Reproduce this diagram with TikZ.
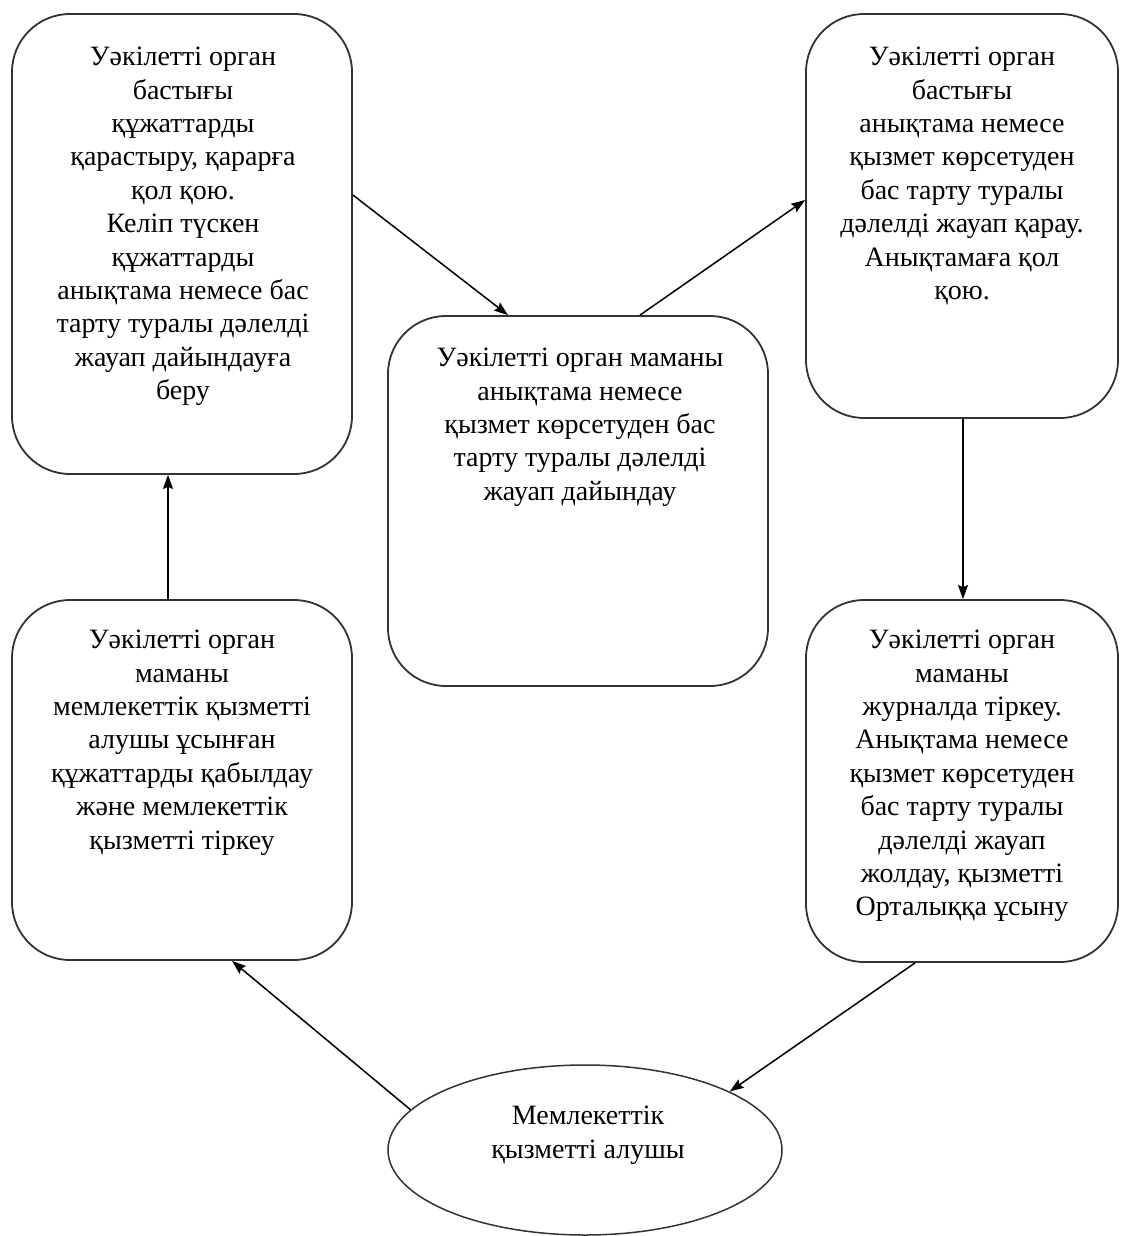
\documentclass[tikz,border=0pt]{standalone}
\usepackage{fontspec}
\setmainfont{Liberation Serif}
\usetikzlibrary{arrows.meta,shapes.geometric}
\begin{document}
\begin{tikzpicture}[x=1pt,y=-1pt,
  box/.style={draw=black!80,line width=1.8pt,rounded corners=58pt,fill=none,inner sep=0pt},
  oval/.style={draw=black!80,line width=1.5pt,ellipse,inner sep=0pt},
  txt/.style={align=center,inner sep=0pt,anchor=north,font=\fontsize{28}{33.4}\selectfont},
  arr/.style={draw=black,line width=1.5pt,-{Stealth[length=14pt,width=10pt,inset=2pt]}}]
\useasboundingbox (0,0) rectangle (1120,1236);
% boxes
\node[box,minimum width=340pt,minimum height=460pt] (b1) at (182,244) {};
\node[box,minimum width=380pt,minimum height=370pt] (b2) at (578,501) {};
\node[box,minimum width=312pt,minimum height=404pt] (b3) at (962,216) {};
\node[box,minimum width=340pt,minimum height=360pt] (b4) at (182,780) {};
\node[box,minimum width=312pt,minimum height=362pt] (b5) at (962,781) {};
\node[oval,minimum width=394pt,minimum height=170pt] (e) at (585,1150) {};
% texts
\node[txt] (t1) at (183,47) {Уәкілетті орган\\бастығы\\құжаттарды\\қарастыру, қарарға\\қол қою.\\Келіп түскен\\құжаттарды\\анықтама немесе бас\\тарту туралы дәлелді\\жауап дайындауға\\беру};
\node[txt] (t2) at (580,348) {Уәкілетті орган маманы\\анықтама немесе\\қызмет көрсетуден бас\\тарту туралы дәлелді\\жауап дайындау};
\node[txt] (t3) at (962,47) {Уәкілетті орган\\бастығы\\анықтама немесе\\қызмет көрсетуден\\бас тарту туралы\\дәлелді жауап қарау.\\Анықтамаға қол\\қою.};
\node[txt] (t4) at (182,630) {Уәкілетті орган\\маманы\\мемлекеттік қызметті\\алушы ұсынған\\құжаттарды қабылдау\\және мемлекеттік\\қызметті тіркеу};
\node[txt] (t5) at (962,630) {Уәкілетті орган\\маманы\\журналда тіркеу.\\Анықтама немесе\\қызмет көрсетуден\\бас тарту туралы\\дәлелді жауап\\жолдау, қызметті\\Орталыққа ұсыну};
\node[txt] (t6) at (588,1106) {Мемлекеттік\\қызметті алушы};
% helper coordinates
\coordinate (x1) at (168,0);
\coordinate (y2) at (0,195);
\coordinate (x2) at (508,0);
\coordinate (x3) at (640,0);
\coordinate (y3) at (0,200);
\coordinate (x4) at (963,0);
\coordinate (x5) at (915,0);
\coordinate (x6) at (232,0);
% connectors
\draw[arr] (b4.north -| x1) -- (b1.south -| x1);
\draw[arr] (b1.east |- y2) -- (b2.north -| x2);
\draw[arr] (b2.north -| x3) -- (b3.west |- y3);
\draw[arr] (b3.south -| x4) -- (b5.north -| x4);
\draw[arr] (b5.south -| x5) -- (e.22);
\draw[arr] (e.167) -- (b4.south -| x6);
\end{tikzpicture}
\end{document}
